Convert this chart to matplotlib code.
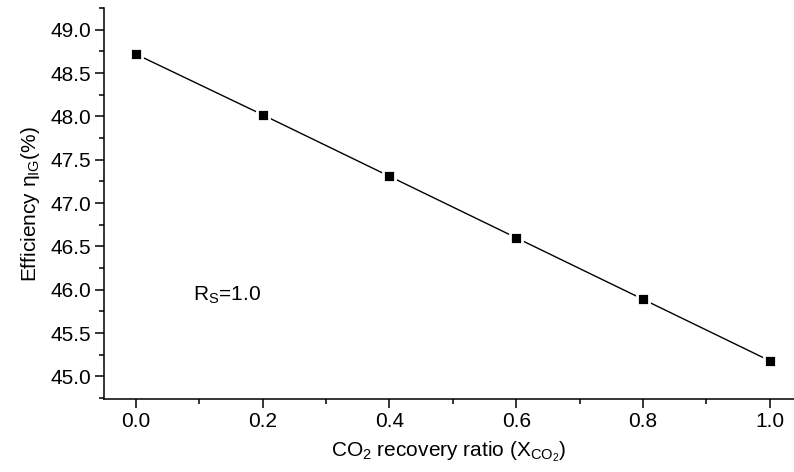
import matplotlib
matplotlib.use("Agg")
import matplotlib.pyplot as plt
from matplotlib.ticker import MultipleLocator

# --- data ---
x_ratio = [0.0, 0.2, 0.4, 0.6, 0.8, 1.0]
efficiency = [48.72, 48.02, 47.31, 46.60, 45.89, 45.18]
note = r"R$_\mathregular{S}$=1.0"

plt.rcParams['font.family'] = ['Liberation Sans', 'DejaVu Sans']
plt.rcParams['mathtext.fontset'] = 'custom'
plt.rcParams['mathtext.rm'] = 'Liberation Sans'
plt.rcParams['mathtext.it'] = 'Liberation Sans'

fig = plt.figure(figsize=(7.94, 4.72), dpi=100)
ax = fig.add_axes([0.131, 0.1547, 0.869, 0.828])

ax.plot(x_ratio, efficiency, color='black', lw=1.0, marker='s', ms=8,
        mfc='black', mec='white', mew=2)

ax.set_xlim(-0.05, 1.038)
ax.set_ylim(44.74, 49.25)
ax.xaxis.set_major_locator(MultipleLocator(0.2))
ax.xaxis.set_minor_locator(MultipleLocator(0.1))
ax.yaxis.set_major_locator(MultipleLocator(0.5))
ax.yaxis.set_minor_locator(MultipleLocator(0.25))
ax.xaxis.set_major_formatter(lambda v, p: f"{v:.1f}")
ax.yaxis.set_major_formatter(lambda v, p: f"{v:.1f}")

for s in ['top', 'right']:
    ax.spines[s].set_visible(False)
for s in ['left', 'bottom']:
    ax.spines[s].set_linewidth(1.1)

ax.tick_params(which='major', direction='out', length=6.5, width=1.1,
               labelsize=15, pad=3)
ax.tick_params(which='minor', direction='out', length=3.5, width=1.1)

ax.set_xlabel(r"CO$_\mathregular{2}$ recovery ratio (X$_{\mathregular{CO_2}}$)",
              fontsize=15, labelpad=6)
ax.set_ylabel(r"Efficiency η$_\mathregular{IG}$(%)", fontsize=15, labelpad=6)

ax.text(0.144, 45.94, note, fontsize=15, ha='center', va='center')

fig.savefig("out.png", dpi=100)
